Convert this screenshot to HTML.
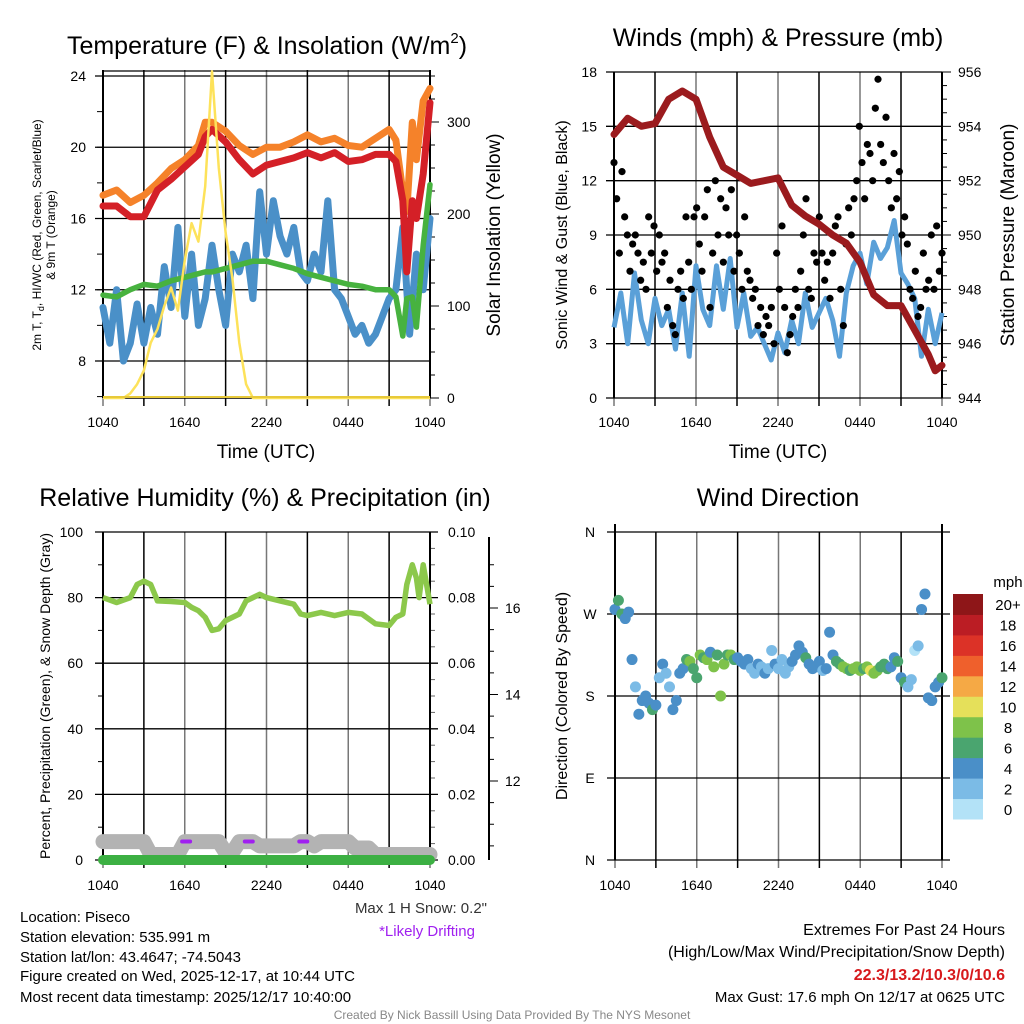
<!DOCTYPE html>
<html><head><meta charset="utf-8"><style>
html,body{margin:0;padding:0;background:#fff;}
svg{display:block;font-family:"Liberation Sans",sans-serif;}
</style></head><body>
<svg id="c" width="1024" height="1024" viewBox="0 0 1024 1024">
<g font-size="25" text-anchor="middle" fill="#000">
<text x="267" y="54">Temperature (F) &amp; Insolation (W/m<tspan font-size="15" dy="-11">2</tspan><tspan dy="11">)</tspan></text>
<text x="778" y="46">Winds (mph) &amp; Pressure (mb)</text>
<text x="265" y="506">Relative Humidity (%) &amp; Precipitation (in)</text>
<text x="778" y="506">Wind Direction</text>
</g>
<g fill="#000">
<text x="266" y="458" font-size="19" text-anchor="middle">Time (UTC)</text>
<text x="778" y="458" font-size="19" text-anchor="middle">Time (UTC)</text>
<text transform="translate(41,235) rotate(-90)" font-size="12" text-anchor="middle">2m T, T<tspan font-size="9" dy="3">d</tspan><tspan dy="-3">, HI/WC (Red, Green, Scarlet/Blue)</tspan></text>
<text transform="translate(55,235) rotate(-90)" font-size="12" text-anchor="middle">&amp; 9m T (Orange)</text>
<text transform="translate(500,235) rotate(-90)" font-size="19" text-anchor="middle">Solar Insolation (Yellow)</text>
<text transform="translate(567,235) rotate(-90)" font-size="16" text-anchor="middle">Sonic Wind &amp; Gust (Blue, Black)</text>
<text transform="translate(1014,235) rotate(-90)" font-size="19" text-anchor="middle">Station Pressure (Maroon)</text>
<text transform="translate(50,696) rotate(-90)" font-size="14" text-anchor="middle">Percent, Precipitation (Green), &amp; Snow Depth (Gray)</text>
<text transform="translate(567,696) rotate(-90)" font-size="16" text-anchor="middle">Direction (Colored By Speed)</text>
</g>
<g font-size="15" fill="#000">
<text x="20" y="922">Location: Piseco</text>
<text x="20" y="942">Station elevation: 535.991 m</text>
<text x="20" y="962">Station lat/lon: 43.4647; -74.5043</text>
<text x="20" y="981">Figure created on Wed, 2025-12-17, at 10:44 UTC</text>
<text x="20" y="1002">Most recent data timestamp: 2025/12/17 10:40:00</text>
<text x="487" y="913" text-anchor="end" fill="#333">Max 1 H Snow: 0.2"</text>
<text x="427" y="936" text-anchor="middle" fill="#a020f0">*Likely Drifting</text>
<text x="1005" y="935" text-anchor="end" font-size="16">Extremes For Past 24 Hours</text>
<text x="1005" y="957" text-anchor="end" font-size="16">(High/Low/Max Wind/Precipitation/Snow Depth)</text>
<text x="1005" y="980" text-anchor="end" font-size="16" font-weight="bold" fill="#d7191c">22.3/13.2/10.3/0/10.6</text>
<text x="1005" y="1002" text-anchor="end" font-size="15">Max Gust: 17.6 mph On 12/17 at 0625 UTC</text>
<text x="512" y="1019" text-anchor="middle" font-size="12" fill="#888">Created By Nick Bassill Using Data Provided By The NYS Mesonet</text>
</g>
<g id="plots"></g>
</svg>
<script>
// ---------- data ----------
var tempHours = [0,1,2,3,4,5,6,7,7.5,8,9,10,11,12,13,14,15,16,17,18,19,20,21,21.5,22,22.3,22.7,23,23.5,24];
var orangeT = [17.3,17.6,16.9,17.3,18.0,18.8,19.3,20.1,21.4,21.4,20.9,20.1,19.6,20.0,20.0,20.3,20.7,20.3,20.5,20.1,20.0,20.5,21.0,20.4,17.5,16.4,21.4,19.3,22.6,23.3];
var redT = [16.7,16.7,16.1,16.1,17.6,18.2,18.9,19.6,20.6,21.0,20.3,19.3,18.5,19.0,19.2,19.4,19.7,19.4,19.7,19.2,19.3,19.6,19.6,19.2,17.0,13.0,17.0,16.0,18.5,22.5];
var greenT = [11.7,11.6,12.0,12.3,12.2,12.5,12.7,12.9,13.0,13.0,13.2,13.4,13.6,13.6,13.4,13.2,12.9,12.7,12.5,12.3,12.2,12.0,12.0,11.6,9.4,11.5,11.6,9.9,14.5,17.9];
var blueT = [11.0,9.0,12.0,8.0,9.0,11.2,9.0,11.0,9.5,13.3,11.0,15.5,10.5,14.0,10.0,11.5,14.5,12.0,10.0,14.0,13.0,14.5,11.5,17.5,14.0,17.0,15.0,14.0,15.5,13.0,12.5,14.0,13.0,17.0,12.0,11.5,10.5,9.5,10.0,9.0,9.5,10.5,11.5,12.0,15.5,9.5,14.0,12.0,16.0];
var solar = [0,0,0,0,5,15,30,60,75,100,120,95,150,190,170,230,355,250,180,130,60,15,0,0,0,0,0,0,0,0,0,0,0,0,0,0,0,0,0,0,0,0,0,0,0,0,0,0,0];
var pressHours = [0,1,2,3,4,5,6,7,8,9,10,11,12,13,14,15,16,17,18,19,20,21,22,23,23.5,24];
var pressure = [953.7,954.3,954.0,954.1,955.0,955.3,955.0,953.6,952.5,952.2,951.9,952.0,952.1,951.1,950.7,950.4,950.0,949.7,949.0,947.8,947.4,947.4,946.5,945.6,945.0,945.2];
var sonicWind = [3.9,5.8,3.0,6.9,4.3,3.0,5.5,4.0,4.9,2.7,5.8,2.3,7.3,4.9,4.0,7.3,4.9,7.7,3.9,5.8,3.4,3.9,3.0,2.1,3.6,2.5,4.3,3.0,5.8,3.9,4.7,5.5,4.3,2.3,5.8,7.3,8.0,6.3,8.6,7.7,8.3,9.8,6.9,6.3,5.5,2.3,4.9,3.0,4.7];
var gusts = [13,11,8,12.5,10,9,7,8.5,9,8,6.5,7.5,6,10,8,9.5,7,9,7.5,8,5,6.5,4,3.5,6,7,5.5,10,7.5,6,10,10.5,8.5,7,10,11.5,5,8,12,9,11,7.5,10.5,9,11.5,7,9,8,6,10,7,6.5,5.5,6,4,5,3.5,4.5,4,5,3,8,6,9.5,5,2.5,3.5,4.5,6,5,7,9,11,6,5.5,8,7.5,10,8,6.5,7.5,5.5,8,9.5,10,6,4,8.5,10.5,9,11,12,15,13,11,14,13.5,12,16,17.6,14,13,15.5,12,10.5,13.5,11,12.5,9,10,8.5,6,5.5,7,4.5,5,8,6,6.5,9,6,9.5,7,8];
var rhHours = [0,1,2,2.5,3,3.5,4,5,6,6.5,7,7.5,8,8.5,9,10,10.5,11,11.5,12,13,14,14.5,15,16,17,18,19,20,21,21.5,22,22.3,22.7,23,23.2,23.5,24];
var rh = [80,78.5,80,84,85,84,79,78.8,78.5,77,76,74,70,70.5,73,75,79,80,81,80,79,78,75,74.5,75.5,74.5,75.5,75,72,71.5,74,75,84,90,86,80,90,78];
var snowHours = [0,3,3.5,5.5,6,8.5,9,9.5,10,11,11.5,12,14,14.5,15,15.5,16,18,18.5,19.5,20,24];
var snowDepth = [10.6,10.6,10.3,10.3,10.6,10.6,10.35,10.35,10.6,10.6,10.5,10.5,10.5,10.6,10.6,10.5,10.6,10.6,10.45,10.45,10.3,10.3];
var driftHours = [6.1,10.7,14.7];
var precip = [0,0];
var dirs = [275,285,270,265,272,220,190,160,175,180,172,165,170,200,215,205,190,165,175,205,210,220,218,210,200,225,222,220,228,212,225,180,215,225,225,220,222,218,215,220,210,205,215,212,205,210,230,215,210,220,205,212,218,225,235,228,222,215,210,212,218,208,210,250,225,218,215,212,210,208,210,212,208,210,212,208,205,208,212,215,210,212,222,218,200,195,190,198,230,235,275,292,178,175,190,195,200];
var speeds = [4,6,7,5,4,4,3,4,5,4,4,6,4,3,4,3,2,4,5,4,4,6,8,7,6,8,7,8,4,8,7,8,8,6,8,7,5,4,4,5,3,2,4,3,4,3,2,4,3,2,2,3,4,4,5,4,6,5,4,4,5,2,4,5,5,6,7,8,8,7,8,9,8,7,8,10,9,8,7,7,6,5,5,6,5,6,2,2,1,2,4,4,4,5,5,4,6];
var xTickLabels = ["1040","1640","2240","0440","1040"];
var tempTicks = [8,12,16,20,24];
var solarTicks = [0,100,200,300];
var windTicks = [0,3,6,9,12,15,18];
var pressTicks = [944,946,948,950,952,954,956];
var rhTicks = [0,20,40,60,80,100];
var precipTicks = ["0.00","0.02","0.04","0.06","0.08","0.10"];
var snowTicks = [12,14,16];
var dirLabels = ["N","E","S","W","N"];
var cbLabels = ["0","2","4","6","8","10","12","14","16","18","20+"];
var cbColors = ["#b3e2f7","#7bbbe6","#4a8fc8","#4aa56f","#7ec24a","#e5e05a","#f5a945","#ef602c","#dc3227","#bb1d24","#8e1618"];

// ---------- helpers ----------
var NS="http://www.w3.org/2000/svg";
var root=document.getElementById('plots');
function mk(tag,attrs,parent){var e=document.createElementNS(NS,tag);for(var k in attrs)e.setAttribute(k,attrs[k]);(parent||root).appendChild(e);return e;}
function lin(d0,d1,r0,r1){return function(v){return r0+(v-d0)/(d1-d0)*(r1-r0);};}
function pathOf(xs,ys,fx,fy){var s="";var n=Math.min(xs.length,ys.length);for(var i=0;i<n;i++){s+=(i?"L":"M")+fx(xs[i]).toFixed(1)+","+fy(ys[i]).toFixed(1);}return s;}
function halfHours(n){var a=[];for(var i=0;i<n;i++)a.push(i*24/(n-1));return a;}

function frame(P,name){
  var g=mk('g',{});
  
  
  for(var i=0;i<=8;i++){
    var x=P.x0+(P.x1-P.x0)*i/8;
    var l=mk('line',{x1:x,x2:x,y1:P.y0,y2:P.y1+8,stroke:i%2?'#000':'#777','stroke-width':1.5},g);
    
    
  }
  return g;
}
function hgrid(g,y,x0,x1){var l=mk('line',{x1:x0,x2:x1,y1:y,y2:y,stroke:'#000','stroke-width':1.3},g);
  
  }
function label(g,x,y,t,anchor,size,nm){var e=mk('text',{x:x,y:y,'text-anchor':anchor||'middle','font-size':size||14,fill:'#000'},g);e.textContent=t;
  
  return e;}
function xlabels(g,P){for(var i=0;i<5;i++){label(g,P.x0+(P.x1-P.x0)*i/4,427,xTickLabels[i],'middle',14,'x-tick-label');}}
function xlabels2(g,P,y){for(var i=0;i<5;i++){label(g,P.x0+(P.x1-P.x0)*i/4,y,xTickLabels[i],'middle',14,'x-tick-label');}}

// ---------- Panel 1: temperature ----------
(function(){
  var P={x0:103,x1:430,y0:70,y1:398};
  var fx=lin(0,24,P.x0,P.x1), fy=lin(6,24,396.6,76), fs=lin(0,300,398,122);
  var g=frame(P,'temperature');
  tempTicks.forEach(function(t){hgrid(g,fy(t),P.x0-8,P.x1);label(g,86,fy(t)+5,String(t),'end',14,'temp-y-tick');});
  hgrid(g,P.y0+1,P.x0,P.x1);
  for(var t=6;t<=24;t+=2){mk('line',{x1:P.x0-6,x2:P.x0,y1:fy(t),y2:fy(t),stroke:'#000'},g);}
  for(var s=0;s<=350;s+=25){mk('line',{x1:P.x1,x2:P.x1+(s%100?5:9),y1:fs(s),y2:fs(s),stroke:'#000'},g);}
  solarTicks.forEach(function(s){label(g,447,fs(s)+5,String(s),'start',14,'solar-y-tick');});
  mk('line',{x1:P.x0,x2:P.x0,y1:P.y0,y2:P.y1,stroke:'#000','stroke-width':2},g);
  mk('line',{x1:P.x1,x2:P.x1,y1:P.y0,y2:P.y1,stroke:'#000','stroke-width':2},g);
  mk('line',{x1:P.x0,x2:P.x1,y1:P.y1,y2:P.y1,stroke:'#000','stroke-width':1.5},g);
  xlabels(g,P);
  var hh=halfHours(49);
  var series=[[hh,blueT,'#4a90c8',7,'heat-index-line'],[tempHours,greenT,'#47b23f',5.5,'dewpoint-line'],[tempHours,orangeT,'#f5822a',7,'temp-9m-line'],[tempHours,redT,'#d42027',7,'temp-2m-line']];
  series.forEach(function(s){var p=mk('path',{d:pathOf(s[0],s[1],fx,fy),fill:'none',stroke:s[2],'stroke-width':s[3],'stroke-linejoin':'round','stroke-linecap':'round'});
    
    });
  var p=mk('path',{d:pathOf(hh,solar,fx,fs),fill:'none',stroke:'#fde25a','stroke-width':2.5,'stroke-linejoin':'round'});
  
  
  mk('line',{x1:P.x0,x2:P.x1,y1:P.y1-1,y2:P.y1-1,stroke:'#e7c93a','stroke-width':2});
})();

// ---------- Panel 2: winds ----------
(function(){
  var P={x0:614,x1:942,y0:72,y1:398};
  var fx=lin(0,24,P.x0,P.x1), fy=lin(0,18,398,72), fp=lin(944,956,398,72);
  var g=frame(P,'winds');
  windTicks.forEach(function(t){hgrid(g,fy(t),P.x0-8,P.x1);label(g,597,fy(t)+5,String(t),'end',14,'wind-y-tick');});
  for(var v=944;v<=956;v+=0.5){mk('line',{x1:P.x1,x2:P.x1+(v%2?5:9),y1:fp(v),y2:fp(v),stroke:'#000'},g);}
  pressTicks.forEach(function(t){label(g,958,fp(t)+5,String(t),'start',14,'pressure-y-tick');});
  mk('line',{x1:P.x0,x2:P.x0,y1:P.y0,y2:P.y1,stroke:'#000','stroke-width':2},g);
  mk('line',{x1:P.x1,x2:P.x1,y1:P.y0,y2:P.y1,stroke:'#000','stroke-width':2},g);
  xlabels(g,P);
  var hh=halfHours(49);
  var p=mk('path',{d:pathOf(hh,sonicWind,fx,fy),fill:'none',stroke:'#5aa0d8','stroke-width':5,'stroke-linejoin':'round'});
  
  
  var gh=halfHours(gusts.length);
  var gg=mk('g',{});
  
  
  for(var i=0;i<gusts.length;i++){var c=mk('circle',{cx:fx(gh[i]),cy:fy(gusts[i]),r:3.6,fill:'#000'},gg);
    
    }
  var q=mk('path',{d:pathOf(pressHours,pressure,fx,fp),fill:'none',stroke:'#9b1b1e','stroke-width':7,'stroke-linejoin':'round','stroke-linecap':'round'});
  
  
})();

// ---------- Panel 3: RH / precip / snow ----------
(function(){
  var P={x0:103,x1:430,y0:532,y1:860};
  var fx=lin(0,24,P.x0,P.x1), fy=lin(0,100,860,532), fsn=lin(12,16,781,608);
  var g=frame(P,'humidity');
  rhTicks.forEach(function(t,i){hgrid(g,fy(t),P.x0-8,P.x1+8);label(g,83,fy(t)+5,String(t),'end',14,'rh-y-tick');label(g,448,fy(t)+5,precipTicks[i],'start',14,'precip-y-tick');});
  for(var v=0;v<=100;v+=5){if(v%20)mk('line',{x1:P.x1,x2:P.x1+5,y1:fy(v),y2:fy(v),stroke:'#666'},g);}
  for(var v2=10;v2<=100;v2+=20){mk('line',{x1:P.x0-5,x2:P.x0,y1:fy(v2),y2:fy(v2),stroke:'#000'},g);}
  mk('line',{x1:489,x2:489,y1:P.y0+5,y2:P.y1,stroke:'#000','stroke-width':2},g);
  for(var s=10.5;s<=17;s+=0.5){var yy=fsn(s);if(yy>=P.y0+5&&yy<=P.y1)mk('line',{x1:489,x2:489+(s%2?5:9),y1:yy,y2:yy,stroke:'#000'},g);}
  snowTicks.forEach(function(t){label(g,505,fsn(t)+5,String(t),'start',14,'snow-y-tick');});
  mk('line',{x1:P.x0,x2:P.x0,y1:P.y0,y2:P.y1,stroke:'#000','stroke-width':2},g);
  mk('line',{x1:P.x1,x2:P.x1,y1:P.y0,y2:P.y1,stroke:'#000','stroke-width':2},g);
  xlabels2(g,P,890);
  var sp=mk('path',{d:pathOf(snowHours,snowDepth,fx,fsn),fill:'none',stroke:'#b3b3b3','stroke-width':15,'stroke-linejoin':'round','stroke-linecap':'round'});
  
  
  driftHours.forEach(function(h){var d=mk('line',{x1:fx(h)-4,x2:fx(h)+4,y1:fsn(10.6),y2:fsn(10.6),stroke:'#a020f0','stroke-width':4,'stroke-linecap':'round'});
    
    });
  var pp=mk('path',{d:pathOf([0,24],precip,fx,lin(0,0.1,860,532)),fill:'none',stroke:'#3cb043','stroke-width':10,'stroke-linecap':'round'});
  
  
  var rp=mk('path',{d:pathOf(rhHours,rh,fx,fy),fill:'none',stroke:'#8cc84b','stroke-width':5.5,'stroke-linejoin':'round'});
  
  
})();

// ---------- Panel 4: wind direction ----------
(function(){
  var P={x0:615,x1:942,y0:532,y1:860};
  var fx=lin(0,24,P.x0,P.x1), fy=lin(0,360,860,532);
  var g=frame(P,'direction');
  dirLabels.forEach(function(t,i){hgrid(g,fy(i*90),P.x0-8,P.x1+8);label(g,590,fy(i*90)+5,t,'middle',14,'direction-tick');});
  mk('line',{x1:P.x0,x2:P.x0,y1:P.y0-8,y2:P.y1,stroke:'#000','stroke-width':2},g);
  mk('line',{x1:P.x1,x2:P.x1,y1:P.y0-8,y2:P.y1,stroke:'#000','stroke-width':2},g);
  xlabels2(g,P,890);
  var th=halfHours(Math.min(dirs.length,speeds.length));
  var dg=mk('g',{});
  
  
  for(var i=0;i<th.length;i++){var bin=Math.min(10,Math.floor(speeds[i]/2));
    var c=mk('circle',{cx:fx(th[i]),cy:fy(dirs[i]),r:5.5,fill:cbColors[bin]},dg);
    
    }
  var cb=mk('g',{});
  
  
  var h=225/11;
  for(var k=0;k<11;k++){var y=819-(k+1)*h;
    var r=mk('rect',{x:953,y:y,width:30,height:h+0.5,fill:cbColors[k]},cb);
    
    
    label(cb,1008,y+h/2+6,cbLabels[k],'middle',15,'colorbar-label');}
  label(cb,1008,587,'mph','middle',15,'colorbar-title');
})();
</script>
</body></html>
